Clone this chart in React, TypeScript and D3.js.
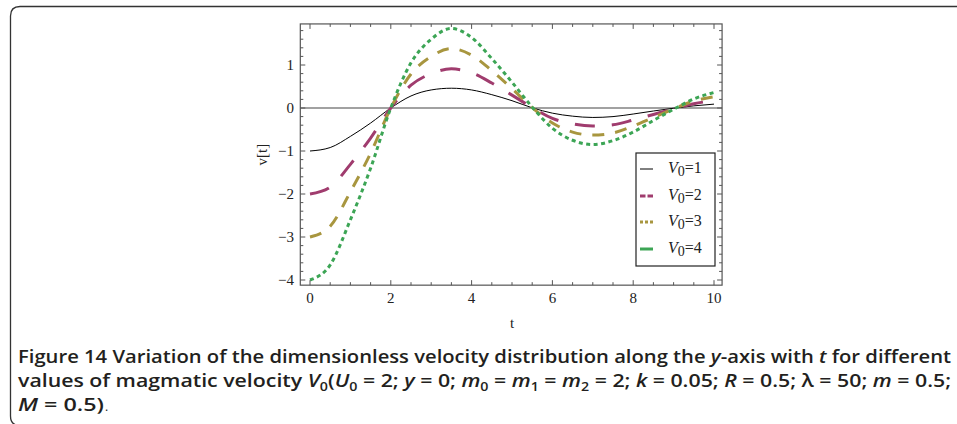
import React from "react";
import * as d3 from "d3";

const tValues = [0, 0.5, 1, 1.5, 2, 2.5, 3, 3.5, 4, 4.5, 5, 5.5, 6, 6.5, 7, 7.5, 8, 8.5, 9, 9.5, 10];
const v1 = [-1.0, -0.92, -0.66, -0.35, 0.0, 0.28, 0.42, 0.46, 0.42, 0.31, 0.17, 0.005, -0.12, -0.19, -0.22, -0.2, -0.14, -0.07, -0.005, 0.05, 0.09];
const v2 = [-2.0, -1.84, -1.31, -0.7, 0.0, 0.53, 0.8, 0.91, 0.82, 0.58, 0.3, 0.01, -0.24, -0.37, -0.42, -0.39, -0.28, -0.15, -0.02, 0.1, 0.17];
const v3 = [-3.0, -2.75, -1.95, -1.05, 0.0, 0.79, 1.2, 1.38, 1.23, 0.87, 0.45, 0.01, -0.35, -0.56, -0.63, -0.58, -0.42, -0.22, -0.02, 0.16, 0.26];
const v4 = [-4.0, -3.65, -2.6, -1.4, 0.0, 1.05, 1.6, 1.85, 1.64, 1.15, 0.6, 0.02, -0.47, -0.75, -0.85, -0.76, -0.56, -0.29, -0.03, 0.21, 0.36];
const seriesLabels = ["1", "2", "3", "4"];
const xTickLabels = [0, 2, 4, 6, 8, 10];
const yTickLabels = [-4, -3, -2, -1, 0, 1];

const colors = ["#000000", "#a03c6e", "#a8963f", "#3ca555"];
const dashes = ["none", "20 17", "12 11", "4 3.5"];
const widths = [1, 3, 3, 3];

export default function App() {
  const x = d3.scaleLinear().domain([0, 10]).range([310, 714]);
  const y = d3.scaleLinear().domain([0, 1]).range([108, 65]);
  const x0 = x(-0.24), x1 = x(10.2);
  const yTop = y(1.955), yBot = y(-4.12);

  const line = d3
    .line<number>()
    .x((_, i) => x(tValues[i]))
    .y((d) => y(d))
    .curve(d3.curveMonotoneX);

  const series = [v1, v2, v3, v4];
  const xMinor = d3.range(0, 10.001, 0.5).filter((v) => Math.abs(v / 2 - Math.round(v / 2)) > 1e-6);
  const yMinor = d3.range(-4, 1.9, 0.2).filter((v) => Math.abs(v - Math.round(v)) > 1e-6);
  const frame = "#555";
  const serif = "'Liberation Serif', 'Times New Roman', serif";
  const capFont = "'Open Sans', 'Noto Sans', sans-serif";

  const legendRows = [169, 196, 222, 249];

  return (
    <div style={{ position: "absolute", left: 0, top: 0 }}>
      <svg width={957} height={424} style={{ display: "block", background: "#fff" }}>
        <defs>
          <clipPath id="plotclip">
            <rect x={x0} y={yTop} width={x1 - x0} height={yBot - yTop} />
          </clipPath>
        </defs>
        <path
          d="M957,6.5 L20,6.5 Q10.5,6.5 10.5,16 L10.5,416 Q10.5,425.5 20,425.5"
          fill="none"
          stroke="#333"
          strokeWidth={1.3}
        />
        <line x1={x0} x2={x1} y1={y(0)} y2={y(0)} stroke="#444" strokeWidth={1.2} />
        <g clipPath="url(#plotclip)">
          {series.map((s, i) => (
            <path
              key={i}
              d={line(s) || ""}
              fill="none"
              stroke={colors[i]}
              strokeWidth={widths[i]}
              strokeDasharray={dashes[i]}
            />
          ))}
        </g>
        <rect x={x0} y={yTop} width={x1 - x0} height={yBot - yTop} fill="none" stroke={frame} strokeWidth={1.2} />
        {xTickLabels.map((t) => (
          <g key={"xt" + t}>
            <line x1={x(t)} x2={x(t)} y1={yBot} y2={yBot - 5} stroke={frame} />
            <line x1={x(t)} x2={x(t)} y1={yTop} y2={yTop + 5} stroke={frame} />
            <text x={x(t)} y={303} textAnchor="middle" fontFamily={serif} fontSize={15} fill="#222">
              {t}
            </text>
          </g>
        ))}
        {xMinor.map((t) => (
          <g key={"xm" + t}>
            <line x1={x(t)} x2={x(t)} y1={yBot} y2={yBot - 3} stroke={frame} />
            <line x1={x(t)} x2={x(t)} y1={yTop} y2={yTop + 3} stroke={frame} />
          </g>
        ))}
        {yTickLabels.map((v) => (
          <g key={"yt" + v}>
            <line x1={x0} x2={x0 + 5} y1={y(v)} y2={y(v)} stroke={frame} />
            <line x1={x1} x2={x1 - 5} y1={y(v)} y2={y(v)} stroke={frame} />
            <text x={294} y={y(v) + 5} textAnchor="end" fontFamily={serif} fontSize={15} fill="#222">
              {v < 0 ? "\u2212" + Math.abs(v) : String(v)}
            </text>
          </g>
        ))}
        {yMinor.map((v) => (
          <g key={"ym" + v.toFixed(1)}>
            <line x1={x0} x2={x0 + 3} y1={y(v)} y2={y(v)} stroke={frame} />
            <line x1={x1} x2={x1 - 3} y1={y(v)} y2={y(v)} stroke={frame} />
          </g>
        ))}
        <text x={512} y={328} textAnchor="middle" fontFamily={serif} fontSize={15} fill="#222">
          t
        </text>
        <text
          transform={`translate(267,${(yTop + yBot) / 2}) rotate(-90)`}
          textAnchor="middle"
          fontFamily={serif}
          fontSize={15}
          fill="#222"
        >
          v[t]
        </text>
        <rect x={636} y={153} width={79} height={113} fill="#fff" stroke="#222" strokeWidth={1.2} />
        {seriesLabels.map((lab, i) => {
          const ry = legendRows[i];
          let sample;
          if (i === 0) sample = <line x1={640} x2={653} y1={ry} y2={ry} stroke="#000" strokeWidth={1} />;
          else if (i === 1)
            sample = <line x1={640} x2={653} y1={ry} y2={ry} stroke={colors[1]} strokeWidth={3} strokeDasharray="5.5 2" />;
          else if (i === 2)
            sample = <line x1={640} x2={653} y1={ry} y2={ry} stroke={colors[2]} strokeWidth={3} strokeDasharray="3 2" />;
          else sample = <line x1={640} x2={653} y1={ry} y2={ry} stroke={colors[3]} strokeWidth={3} />;
          return (
            <g key={"lg" + i}>
              {sample}
              <text x={668} y={ry + 4} fontFamily={serif} fontSize={16} fill="#222">
                <tspan fontStyle="italic">V</tspan>
                <tspan fontSize={14} dy={3}>0</tspan>
                <tspan dy={-3}>={lab}</tspan>
              </text>
            </g>
          );
        })}
        <g fontFamily={capFont} fontWeight={600} fontSize={18} fill="#231f20">
          <text x={18} y={363} textLength={933} lengthAdjust="spacingAndGlyphs">
            Figure 14 Variation of the dimensionless velocity distribution along the{" "}
            <tspan fontStyle="italic">y</tspan>-axis with <tspan fontStyle="italic">t</tspan> for different
          </text>
          <text x={18} y={387} textLength={933} lengthAdjust="spacingAndGlyphs">
            values of magmatic velocity <tspan fontStyle="italic">V</tspan>
            <tspan fontSize={12} dy={4}>0</tspan>
            <tspan dy={-4}>(</tspan>
            <tspan fontStyle="italic">U</tspan>
            <tspan fontSize={12} dy={4}>0</tspan>
            <tspan dy={-4}> = 2; </tspan>
            <tspan fontStyle="italic">y</tspan> = 0; <tspan fontStyle="italic">m</tspan>
            <tspan fontSize={12} dy={4}>0</tspan>
            <tspan dy={-4}> = </tspan>
            <tspan fontStyle="italic">m</tspan>
            <tspan fontSize={12} dy={4}>1</tspan>
            <tspan dy={-4}> = </tspan>
            <tspan fontStyle="italic">m</tspan>
            <tspan fontSize={12} dy={4}>2</tspan>
            <tspan dy={-4}> = 2; </tspan>
            <tspan fontStyle="italic">k</tspan> = 0.05; <tspan fontStyle="italic">R</tspan> = 0.5; λ = 50;{" "}
            <tspan fontStyle="italic">m</tspan> = 0.5;
          </text>
          <text x={18} y={411} textLength={86} lengthAdjust="spacingAndGlyphs">
            <tspan fontStyle="italic">M</tspan> = 0.5)
          </text>
          <text x={105} y={411} fontWeight={400} fontSize={12}>.</text>
        </g>
      </svg>
    </div>
  );
}
